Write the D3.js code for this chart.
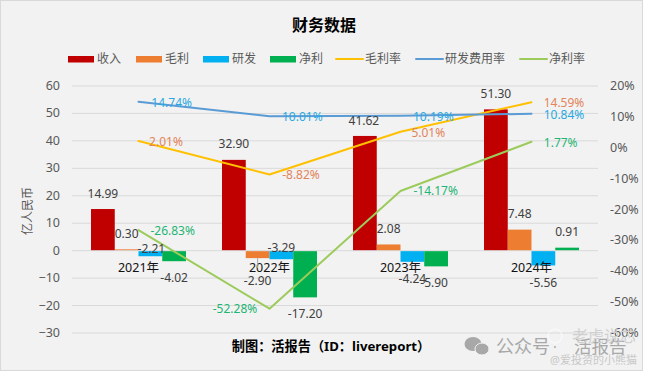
<!DOCTYPE html>
<html>
<head>
<meta charset="utf-8">
<script src="https://cdn.jsdelivr.net/npm/d3@7"></script>
<style>
  html, body { margin: 0; padding: 0; background: #fff; }
  svg { display: block; }
  text { font-family: "Noto Sans", "Noto Sans CJK SC", sans-serif; }
</style>
</head>
<body>
<svg id="chart" width="648" height="374"></svg>
<script>
// data
const years = ["2021年", "2022年", "2023年", "2024年"];
const revenue = [14.99, 32.90, 41.62, 51.30];
const grossProfit = [0.30, -2.90, 2.08, 7.48];
const research = [-2.21, -3.29, -4.24, -5.56];
const netProfit = [-4.02, -17.20, -5.90, 0.91];
const grossMargin = [2.01, -8.82, 5.01, 14.59];
const researchRate = [14.74, 10.01, 10.19, 10.84];
const netMargin = [-26.83, -52.28, -14.17, 1.77];
const leftTicks = [60, 50, 40, 30, 20, 10, 0, -10, -20, -30];
const rightTicks = [20, 10, 0, -10, -20, -30, -40, -50, -60];

const barSeries = [
  {name: "收入", values: revenue, color: "#c00000",
    dx: [0, 0, -1, 0], dy: [-15, -16, -15, -16]},
  {name: "毛利", values: grossProfit, color: "#ed7d31",
    dx: [0, 0, 0, 0], dy: [-15.6, 23, -15.7, -16]},
  {name: "研发", values: research, color: "#00b0f0",
    dx: [1, 0, 0, 0], dy: [-7.5, -11.4, 17.3, 17.6]},
  {name: "净利", values: netProfit, color: "#00b050",
    dx: [0, 0, -2, 0], dy: [16.6, 16.4, 16.4, -16]}
];
const lineSeries = [
  {name: "毛利率", values: grossMargin, color: "#ffc000", labelColor: "#e2845a",
    dx: [27.5, 31.5, 27.8, 32.5], dy: [0.7, 0.2, 1.2, 0.5]},
  {name: "研发费用率", values: researchRate, color: "#5b9bd5", labelColor: "#2aa9e0",
    dx: [33.2, 32.8, 32.8, 32.5], dy: [1, 0.4, 0.9, 0.9]},
  {name: "净利率", values: netMargin, color: "#9ccb5c", labelColor: "#1fb574",
    dx: [34.2, -34.5, 35.2, 29.2], dy: [0.6, 0.3, 0.3, 0.9]}
];

const svg = d3.select("#chart");

// card background
svg.append("rect")
  .attr("x", 0.5).attr("y", 0.5)
  .attr("width", 642).attr("height", 370)
  .attr("fill", "#f2f2f2")
  .attr("stroke", "#d9d9d9");

const plot = {left: 72, right: 598, top: 85.5, bottom: 332.5};

const x0 = d3.scaleBand()
  .domain(years)
  .range([73, 597])
  .paddingInner(0.275)
  .paddingOuter(0.1375);
const x1 = d3.scaleBand()
  .domain(barSeries.map(d => d.name))
  .range([0, x0.bandwidth()]);
const yLeft = d3.scaleLinear().domain([-30, 60]).range([plot.bottom, plot.top]);
const yRight = d3.scaleLinear().domain([-60, 20]).range([plot.bottom, plot.top]);

// gridlines + left axis
const axisL = svg.append("g")
  .attr("transform", `translate(${plot.left},0)`)
  .call(d3.axisLeft(yLeft)
    .tickValues(leftTicks)
    .tickSize(-(plot.right - plot.left))
    .tickPadding(12));
axisL.select(".domain").remove();
axisL.selectAll("line").attr("stroke", "#d9d9d9");
axisL.selectAll("text").attr("fill", "#595959").style("font-size", "12.5px");

const axisR = svg.append("g")
  .attr("transform", `translate(${plot.right},0)`)
  .call(d3.axisRight(yRight)
    .tickValues(rightTicks)
    .tickFormat(d => d + "%")
    .tickSize(0)
    .tickPadding(12));
axisR.select(".domain").remove();
axisR.selectAll("text").attr("fill", "#595959").style("font-size", "12.5px");

// bars
barSeries.forEach(s => {
  svg.append("g")
    .selectAll("rect")
    .data(s.values)
    .join("rect")
      .attr("x", (d, i) => x0(years[i]) + x1(s.name))
      .attr("y", d => yLeft(Math.max(d, 0)) + (d < 0 ? 1 : 0))
      .attr("width", x1.bandwidth())
      .attr("height", d => Math.abs(yLeft(d) - yLeft(0)) - (d < 0 ? 1 : 0))
      .attr("fill", s.color);
});

// category labels sit on the zero line
const axisB = svg.append("g")
  .attr("transform", `translate(0,${yLeft(0)})`)
  .call(d3.axisBottom(x0).tickSize(0).tickPadding(13));
axisB.select(".domain").remove();
axisB.selectAll("text").attr("fill", "#111").style("font-size", "12.5px");

// leader for the 2022 gross profit label
svg.append("line")
  .attr("x1", x0(years[1]) + x1("毛利") + x1.bandwidth() / 2)
  .attr("x2", x0(years[1]) + x1("毛利") + x1.bandwidth() / 2)
  .attr("y1", yLeft(grossProfit[1]))
  .attr("y2", yLeft(grossProfit[1]) + 10)
  .attr("stroke", "#a6a6a6");

// lines
const lineX = i => x0(years[i]) + x0.bandwidth() / 2;
const lineGen = d3.line()
  .x((d, i) => lineX(i))
  .y(d => yRight(d));
lineSeries.forEach(s => {
  svg.append("path")
    .attr("d", lineGen(s.values))
    .attr("fill", "none")
    .attr("stroke", s.color)
    .attr("stroke-width", 2)
    .attr("stroke-linejoin", "round")
    .attr("stroke-linecap", "round");
});

// data labels
barSeries.forEach(s => {
  svg.append("g")
    .selectAll("text")
    .data(s.values)
    .join("text")
      .attr("x", (d, i) => x0(years[i]) + x1(s.name) + x1.bandwidth() / 2 + s.dx[i])
      .attr("y", (d, i) => yLeft(d) + s.dy[i])
      .attr("dy", "0.35em")
      .attr("text-anchor", "middle")
      .attr("fill", "#404040")
      .style("font-size", "12px")
      .text(d => d.toFixed(2));
});
lineSeries.forEach(s => {
  svg.append("g")
    .selectAll("text")
    .data(s.values)
    .join("text")
      .attr("x", (d, i) => lineX(i) + s.dx[i])
      .attr("y", (d, i) => yRight(d) + s.dy[i])
      .attr("dy", "0.35em")
      .attr("text-anchor", "middle")
      .attr("fill", s.labelColor)
      .style("font-size", "12px")
      .text(d => d.toFixed(2) + "%");
});

// legend
const legendBarX = [68, 136, 203, 270];
const legendLineX = [336, 416, 520];
const legend = svg.append("g");
barSeries.forEach((s, i) => {
  legend.append("rect")
    .attr("x", legendBarX[i]).attr("y", 56)
    .attr("width", 26).attr("height", 6.5)
    .attr("fill", s.color);
  legend.append("text")
    .attr("x", legendBarX[i] + 29).attr("y", 59).attr("dy", "0.35em")
    .attr("fill", "#595959").style("font-size", "12px")
    .text(s.name);
});
lineSeries.forEach((s, i) => {
  legend.append("line")
    .attr("x1", legendLineX[i]).attr("x2", legendLineX[i] + 27)
    .attr("y1", 59).attr("y2", 59)
    .attr("stroke", s.color).attr("stroke-width", 2)
    .attr("stroke-linecap", "round");
  legend.append("text")
    .attr("x", legendLineX[i] + 29).attr("y", 59).attr("dy", "0.35em")
    .attr("fill", "#595959").style("font-size", "12px")
    .text(s.name);
});

// titles
svg.append("text")
  .attr("x", 324).attr("y", 25).attr("dy", "0.35em")
  .attr("text-anchor", "middle")
  .attr("fill", "#000").attr("font-weight", 700)
  .style("font-size", "16px")
  .text("财务数据");
svg.append("text")
  .attr("transform", "translate(28,211) rotate(-90)")
  .attr("dy", "0.35em")
  .attr("text-anchor", "middle")
  .attr("fill", "#595959")
  .style("font-size", "12px")
  .text("亿人民币");
svg.append("text")
  .attr("x", 331).attr("y", 346).attr("dy", "0.35em")
  .attr("text-anchor", "middle")
  .attr("fill", "#000").attr("font-weight", 700)
  .style("font-size", "13.2px")
  .text("制图：活报告（ID：livereport）");

// watermark
const wm = svg.append("g");
wm.append("ellipse").attr("cx", 473).attr("cy", 344).attr("rx", 8.5).attr("ry", 7).attr("fill", "#a8a8a8");
wm.append("ellipse").attr("cx", 482).attr("cy", 349).attr("rx", 7).attr("ry", 6).attr("fill", "#a8a8a8")
  .attr("stroke", "#f2f2f2");
wm.append("text")
  .attr("x", 496).attr("y", 347).attr("dy", "0.35em")
  .attr("fill", "#a8a8a8").style("font-size", "18px")
  .text("公众号");
wm.append("text")
  .attr("x", 555).attr("y", 347).attr("dy", "0.35em")
  .attr("text-anchor", "middle")
  .attr("fill", "#a8a8a8").style("font-size", "14px")
  .text("·");
wm.append("text")
  .attr("x", 574).attr("y", 347).attr("dy", "0.35em")
  .attr("fill", "#a8a8a8").style("font-size", "17.5px")
  .text("活报告");
wm.append("circle").attr("cx", 555).attr("cy", 336).attr("r", 7)
  .attr("fill", "none").attr("stroke", "#fff").attr("stroke-opacity", 0.8);
wm.append("text")
  .attr("x", 572).attr("y", 336).attr("dy", "0.35em")
  .attr("fill", "#d0d0d0").style("font-size", "16px")
  .text("老虎说芯");
wm.append("text")
  .attr("x", 550).attr("y", 360).attr("dy", "0.35em")
  .attr("fill", "#c8c8c8").style("font-size", "11px")
  .text("@爱投资的小熊猫");
</script>
</body>
</html>
